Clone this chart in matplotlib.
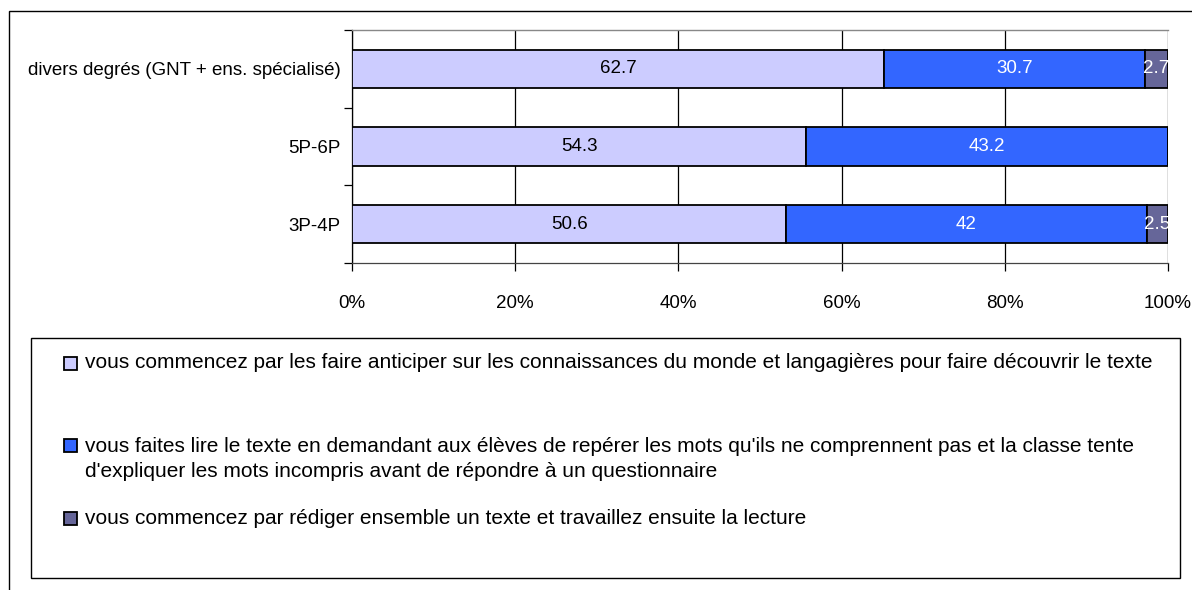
import matplotlib
matplotlib.use("Agg")
import matplotlib.pyplot as plt
from matplotlib.patches import Rectangle
import numpy as np

plt.rcParams['font.family'] = ['Liberation Sans', 'DejaVu Sans']

categories = ["divers degrés (GNT + ens. spécialisé)", "5P-6P", "3P-4P"]
s1 = [62.7, 54.3, 50.6]
s2 = [30.7, 43.2, 42.0]
s3 = [2.7, 0.0, 2.5]
series_labels = [
    "vous commencez par les faire anticiper sur les connaissances du monde et langagières pour faire découvrir le texte",
    "vous faites lire le texte en demandant aux élèves de repérer les mots qu'ils ne comprennent pas et la classe tente\nd'expliquer les mots incompris avant de répondre à un questionnaire",
    "vous commencez par rédiger ensemble un texte et travaillez ensuite la lecture",
]
colors = ["#CCCCFF", "#3366FF", "#666699"]
text_colors = ["black", "white", "white"]
xtick_vals = [0, 20, 40, 60, 80, 100]

FS = 13.5
LFS = 15
W, H = 1192, 590
fig = plt.figure(figsize=(W / 100, H / 100), dpi=100)

# outer border
fig.patches.append(Rectangle((9 / W, -0.1), 1.5, (H - 11) / H + 0.1, transform=fig.transFigure,
                             fill=False, edgecolor="black", linewidth=1.0))

ax = fig.add_axes([352 / W, (H - 263) / H, (1168 - 352) / W, (263 - 30) / H])

data = np.array([s1, s2, s3])
totals = data.sum(axis=0)
pct = data / totals * 100
y = np.arange(len(categories))[::-1]
left = np.zeros(len(categories))
for i in range(3):
    ax.barh(y, pct[i], left=left, height=0.49, color=colors[i],
            edgecolor="black", linewidth=1.3, zorder=3)
    for j in range(len(categories)):
        if data[i][j] > 0:
            v = data[i][j]
            ax.text(left[j] + pct[i][j] / 2, y[j], f"{v:g}", ha="center", va="center",
                    color=text_colors[i], fontsize=FS, zorder=4)
    left += pct[i]

ax.set_xlim(0, 100)
ax.set_ylim(-0.5, 2.5)
ax.set_xticks(xtick_vals)
ax.set_xticklabels([f"{v}%" for v in xtick_vals], fontsize=FS)
ax.grid(axis="x", color="black", linewidth=0.9, zorder=0)
ax.tick_params(axis="x", length=6, width=0.9, pad=17, direction="out")

ax.set_yticks([-0.5, 0.5, 1.5, 2.5])
ax.set_yticklabels([])
ax.set_yticks(y, minor=True)
ax.set_yticklabels(categories, minor=True, fontsize=FS)
ax.tick_params(axis="y", which="major", length=6, width=0.9)
ax.tick_params(axis="y", which="minor", length=0, pad=8)

ax.spines["top"].set_color("#888888")
ax.spines["top"].set_linewidth(1.0)
ax.spines["right"].set_visible(False)
ax.spines["left"].set_linewidth(0.9)
ax.spines["bottom"].set_linewidth(0.9)
ax.spines["bottom"].set_color("#444444")

# legend box
lx0, ly0, lx1, ly1 = 31, 338, 1180, 578
fig.patches.append(Rectangle((lx0 / W, 1 - ly1 / H), (lx1 - lx0) / W, (ly1 - ly0) / H,
                             transform=fig.transFigure, fill=False, edgecolor="black", linewidth=1.0))
first_line_y = [363, 445, 518]
line_gap = 28
for lab, col, fy in zip(series_labels, colors, first_line_y):
    nlines = lab.count("\n") + 1
    cy = fy + (nlines - 1) * line_gap / 2
    fig.patches.append(Rectangle((64 / W, 1 - (fy + 6.5) / H), 13 / W, 13 / H,
                                 transform=fig.transFigure, facecolor=col,
                                 edgecolor="black", linewidth=1.3))
    fig.text(85 / W, 1 - cy / H, lab, ha="left", va="center", fontsize=LFS,
             linespacing=line_gap / (LFS * 100 / 72))

fig.savefig("out.png", dpi=100)
